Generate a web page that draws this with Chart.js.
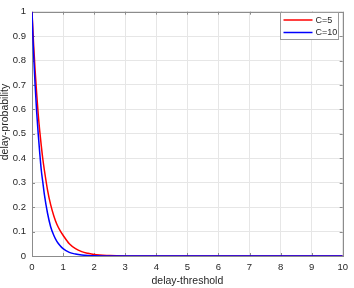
<!DOCTYPE html>
<html>
<head>
<meta charset="utf-8">
<script src="https://cdn.jsdelivr.net/npm/chart.js@4/dist/chart.umd.min.js"></script>
<style>
html,body{margin:0;padding:0;background:#fff;}
#wrap{width:354px;height:288px;position:relative;}
</style>
</head>
<body>
<div id="wrap"><canvas id="c" width="354" height="288"></canvas></div>
<script>
const thresholds = [0, 0.05, 0.1, 0.15, 0.2, 0.25, 0.3, 0.35, 0.4, 0.5, 0.6, 0.7, 0.8, 0.9, 1.0, 1.2, 1.4, 1.6, 1.8, 2.0, 2.5, 3, 4, 5, 6, 7, 8, 9, 10];
const probC5  = [1, 0.87, 0.76, 0.665, 0.58, 0.51, 0.45, 0.395, 0.35, 0.27, 0.21, 0.165, 0.13, 0.105, 0.085, 0.05, 0.03, 0.018, 0.011, 0.006, 0.002, 0.0005, 0, 0, 0, 0, 0, 0, 0];
const probC10 = [1, 0.83, 0.70, 0.59, 0.50, 0.42, 0.35, 0.30, 0.25, 0.175, 0.12, 0.085, 0.06, 0.043, 0.03, 0.015, 0.008, 0.004, 0.002, 0.001, 0.0002, 0, 0, 0, 0, 0, 0, 0, 0];
const seriesLabels = ['C=5', 'C=10'];
const xTicks = [0,1,2,3,4,5,6,7,8,9,10];
const yTicks = [0,0.1,0.2,0.3,0.4,0.5,0.6,0.7,0.8,0.9,1];
const xTitle = 'delay-threshold';
const yTitle = 'delay-probability';

const toPts = (ys) => thresholds.map((x, i) => ({x: x, y: ys[i]}));
const FONT = 'Liberation Sans, Arial, Helvetica, sans-serif';
const AXIS = '#8c8c8c';
const TEXT = '#262626';

const boxPlugin = {
  id: 'box',
  beforeDatasetsDraw(chart) {
    const {ctx, chartArea: a, scales} = chart;
    ctx.save();
    ctx.strokeStyle = AXIS;
    ctx.lineWidth = 1;
    ctx.beginPath();
    const L = 3;
    xTicks.forEach(v => {
      const px = Math.round(scales.x.getPixelForValue(v)) + 0.5;
      ctx.moveTo(px, a.bottom); ctx.lineTo(px, a.bottom - L);
      ctx.moveTo(px, a.top); ctx.lineTo(px, a.top + L);
    });
    yTicks.forEach(v => {
      const py = Math.round(scales.y.getPixelForValue(v)) + 0.5;
      ctx.moveTo(a.left, py); ctx.lineTo(a.left + L, py);
      ctx.moveTo(a.right, py); ctx.lineTo(a.right - L, py);
    });
    ctx.stroke();
    ctx.strokeRect(Math.round(a.left) + 0.5, Math.round(a.top) + 0.5, Math.round(a.right - a.left), Math.round(a.bottom - a.top));
    // axis titles
    ctx.fillStyle = TEXT;
    ctx.font = '10.5px ' + FONT;
    ctx.textAlign = 'center';
    ctx.textBaseline = 'middle';
    ctx.fillText(xTitle, (a.left + a.right) / 2, 281);
    ctx.save();
    ctx.translate(5.5, 122);
    ctx.rotate(-Math.PI / 2);
    ctx.fillText(yTitle, 0, 0);
    ctx.restore();
    ctx.restore();
  },
  afterDraw(chart) {
    const {ctx} = chart;
    const ds = chart.data.datasets;
    ctx.save();
    const bx = 280.5, by = 12.5, bw = 58, bh = 27;
    ctx.fillStyle = '#fff';
    ctx.fillRect(bx, by, bw, bh);
    ctx.strokeStyle = '#9a9a9a';
    ctx.lineWidth = 1;
    ctx.strokeRect(bx, by, bw, bh);
    ctx.font = '9px ' + FONT;
    ctx.textBaseline = 'middle';
    ctx.textAlign = 'left';
    ds.forEach((d, i) => {
      const y = by + 7.5 + i * 12.5;
      ctx.strokeStyle = d.borderColor;
      ctx.lineWidth = 1.5;
      ctx.beginPath();
      ctx.moveTo(bx + 3, y); ctx.lineTo(bx + 32, y);
      ctx.stroke();
      ctx.fillStyle = TEXT;
      ctx.fillText(d.label, bx + 35, y + 0.5);
    });
    ctx.restore();
  }
};

new Chart(document.getElementById('c'), {
  type: 'line',
  data: {
    datasets: [
      {label: seriesLabels[0], data: toPts(probC5), borderColor: '#ff0000', borderWidth: 1.5, pointRadius: 0, cubicInterpolationMode: 'monotone', fill: false, order: 1},
      {label: seriesLabels[1], data: toPts(probC10), borderColor: '#0000ff', borderWidth: 1.5, pointRadius: 0, cubicInterpolationMode: 'monotone', fill: false, order: 0}
    ]
  },
  options: {
    responsive: false,
    animation: false,
    devicePixelRatio: 1,
    layout: {padding: {left: 0, top: 5, right: 8, bottom: 0}},
    plugins: {legend: {display: false}, tooltip: {enabled: false}},
    scales: {
      x: {
        type: 'linear', min: 0, max: 10,
        afterBuildTicks(s) { s.ticks = xTicks.map(v => ({value: v})); },
        afterFit(s) { s.height = 32; },
        grid: {color: '#e6e6e6', drawTicks: false},
        border: {display: false},
        ticks: {font: {family: FONT, size: 9.5}, color: TEXT, padding: 6, maxRotation: 0}
      },
      y: {
        type: 'linear', min: 0, max: 1,
        afterBuildTicks(s) { s.ticks = yTicks.map(v => ({value: v})); },
        afterFit(s) { s.width = 32; },
        grid: {color: '#e6e6e6', drawTicks: false},
        border: {display: false},
        ticks: {font: {family: FONT, size: 9.5}, color: TEXT, padding: 6, callback: (v) => String(Math.round(v * 10) / 10)}
      }
    }
  },
  plugins: [boxPlugin]
});
</script>
</body>
</html>
